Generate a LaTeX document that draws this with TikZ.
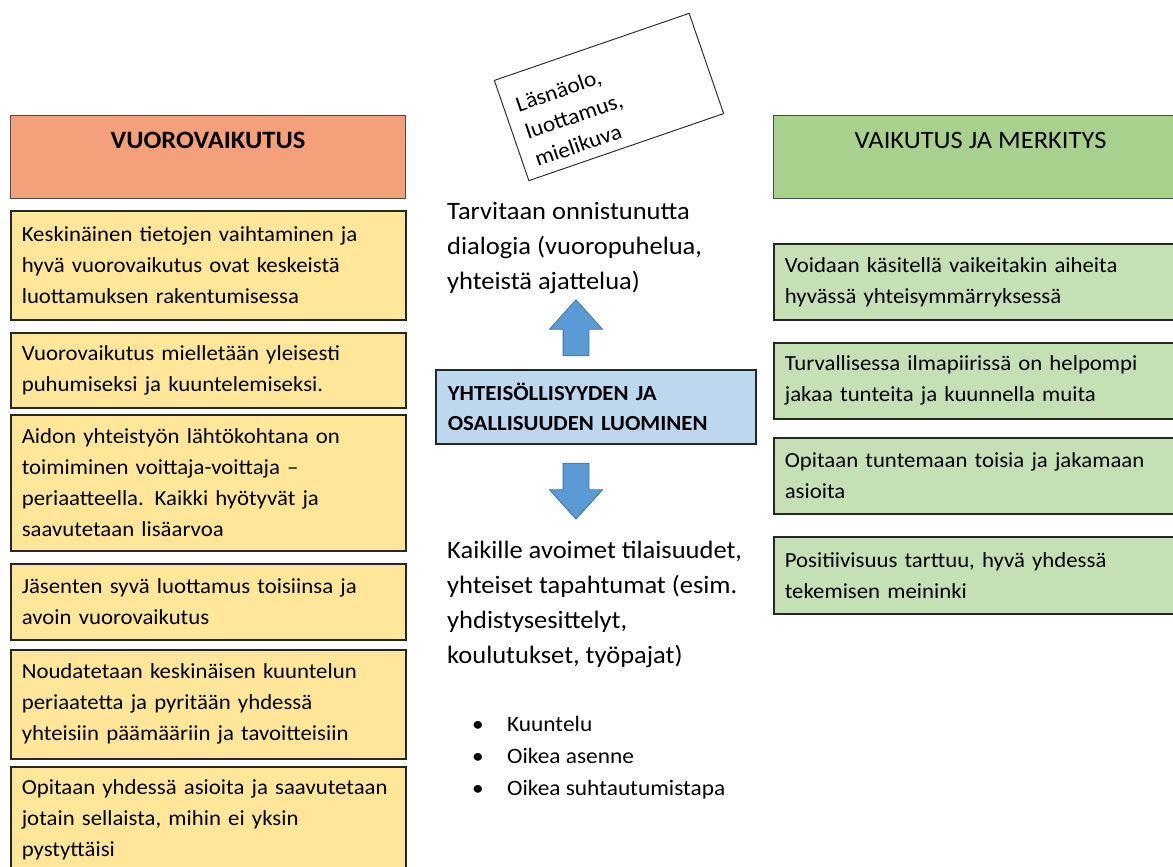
\documentclass[tikz,border=0pt]{standalone}
\usepackage{fontspec}
\setmainfont{Carlito}[FakeStretch=1.06]
\usetikzlibrary{shapes.arrows}
\definecolor{headorange}{HTML}{F4A07A}
\definecolor{boxyellow}{HTML}{FFE699}
\definecolor{headgreen}{HTML}{A9D18E}
\definecolor{boxgreen}{HTML}{C5E0B4}
\definecolor{boxblue}{HTML}{BDD7EE}
\definecolor{arrowblue}{HTML}{5B9BD5}
\definecolor{arrowedge}{HTML}{41719C}
\begin{document}
\begin{tikzpicture}[x=1pt, y=-1pt,
		every node/.style={font=\fontsize{21.5}{31}\selectfont},
		card/.style={draw=black!85, line width=1.6pt, anchor=north west, align=left, inner xsep=11pt, inner ysep=0pt},
		leftcard/.style={card, fill=boxyellow, minimum width=395pt, text width=373pt},
		rightcard/.style={card, fill=boxgreen, minimum width=420pt, text width=398pt},
		head/.style={draw=black!70, line width=1pt, anchor=north west, inner ysep=3pt, text height=30pt, text depth=47pt},
		blockarrow/.style={single arrow, draw=arrowedge, fill=arrowblue, line width=0.8pt, inner sep=12.5pt, single arrow head extend=13.5pt, single arrow tip angle=84, minimum height=56pt}]
		\useasboundingbox (0,0) rectangle (1173,867);
		\clip (0,0) rectangle (1173,867);
		% vasen sarake
		\node[head, fill=headorange, minimum width=395pt, font=\fontsize{25}{28}\selectfont\bfseries] (vuoro) at (10,115) {VUOROVAIKUTUS};
		\node[leftcard, minimum height=109pt] (vv1) at (10,210) {Keskinäinen tietojen vaihtaminen ja\\hyvä vuorovaikutus ovat keskeistä\\luottamuksen rakentumisessa};
		\node[leftcard, minimum height=75pt] (vv2) at (10,332) {Vuorovaikutus mielletään yleisesti\\puhumiseksi ja kuuntelemiseksi.};
		\node[leftcard, minimum height=136pt] (vv3) at (10,414) {Aidon yhteistyön lähtökohtana on\\toimiminen voittaja-voittaja –\\periaatteella. Kaikki hyötyvät ja\\saavutetaan lisäarvoa};
		\node[leftcard, minimum height=76pt] (vv4) at (10,563) {Jäsenten syvä luottamus toisiinsa ja\\avoin vuorovaikutus};
		\node[leftcard, minimum height=109pt] (vv5) at (10,649) {Noudatetaan keskinäisen kuuntelun\\periaatetta ja pyritään yhdessä\\yhteisiin päämääriin ja tavoitteisiin};
		\node[leftcard, minimum height=105pt] (vv6) at (10,766) {Opitaan yhdessä asioita ja saavutetaan\\jotain sellaista, mihin ei yksin\\pystyttäisi};
		% oikea sarake
		\node[head, fill=headgreen, minimum width=414pt, font=\fontsize{25}{28}\selectfont] (vaikutus) at (773,115) {VAIKUTUS JA MERKITYS};
		\node[rightcard, minimum height=76pt] (vm1) at (773,243) {Voidaan käsitellä vaikeitakin aiheita\\hyvässä yhteisymmärryksessä};
		\node[rightcard, minimum height=76pt] (vm2) at (773,342) {Turvallisessa ilmapiirissä on helpompi\\jakaa tunteita ja kuunnella muita};
		\node[rightcard, minimum height=76pt] (vm3) at (773,437) {Opitaan tuntemaan toisia ja jakamaan\\asioita};
		\node[rightcard, minimum height=77pt] (vm4) at (773,536) {Positiivisuus tarttuu, hyvä yhdessä\\tekemisen meininki};
		% keskiosa
		\node[draw=black!80, line width=1pt, fill=white, rotate=19, minimum width=206pt, minimum height=106pt, text width=180pt, inner xsep=13pt, align=left, font=\fontsize{22}{29}\selectfont] (lasna) at (609,97) {\rule{0pt}{28pt}Läsnäolo,\\luottamus,\\mielikuva};
		\node[anchor=north west, inner sep=0pt, align=left, font=\fontsize{25}{35}\selectfont] (dialogi) at (447,202) {Tarvitaan onnistunutta\\dialogia (vuoropuhelua,\\yhteistä ajattelua)};
		\node[blockarrow, rotate=90] (ylos) at (576,335) {};
		\node[draw=black!85, line width=1.6pt, fill=boxblue, anchor=north west, minimum width=320pt, minimum height=74pt, text width=296pt, inner xsep=12pt, align=left, font=\fontsize{21.5}{30}\selectfont\bfseries] (luominen) at (435,369) {YHTEISÖLLISYYDEN JA\\OSALLISUUDEN LUOMINEN};
		\node[blockarrow, rotate=-90] (alas) at (576,484) {};
		\node[anchor=north west, inner sep=0pt, align=left, font=\fontsize{25}{35}\selectfont] (tilaisuudet) at (447,541) {Kaikille avoimet tilaisuudet,\\yhteiset tapahtumat (esim.\\yhdistysesittelyt,\\koulutukset, työpajat)};
		\node[anchor=north west, inner sep=0pt, align=left, font=\fontsize{22}{32}\selectfont] (keinot) at (472,716) {\makebox[35pt][l]{•}Kuuntelu\\\makebox[35pt][l]{•}Oikea asenne\\\makebox[35pt][l]{•}Oikea suhtautumistapa};
	\end{tikzpicture}
\end{document}
